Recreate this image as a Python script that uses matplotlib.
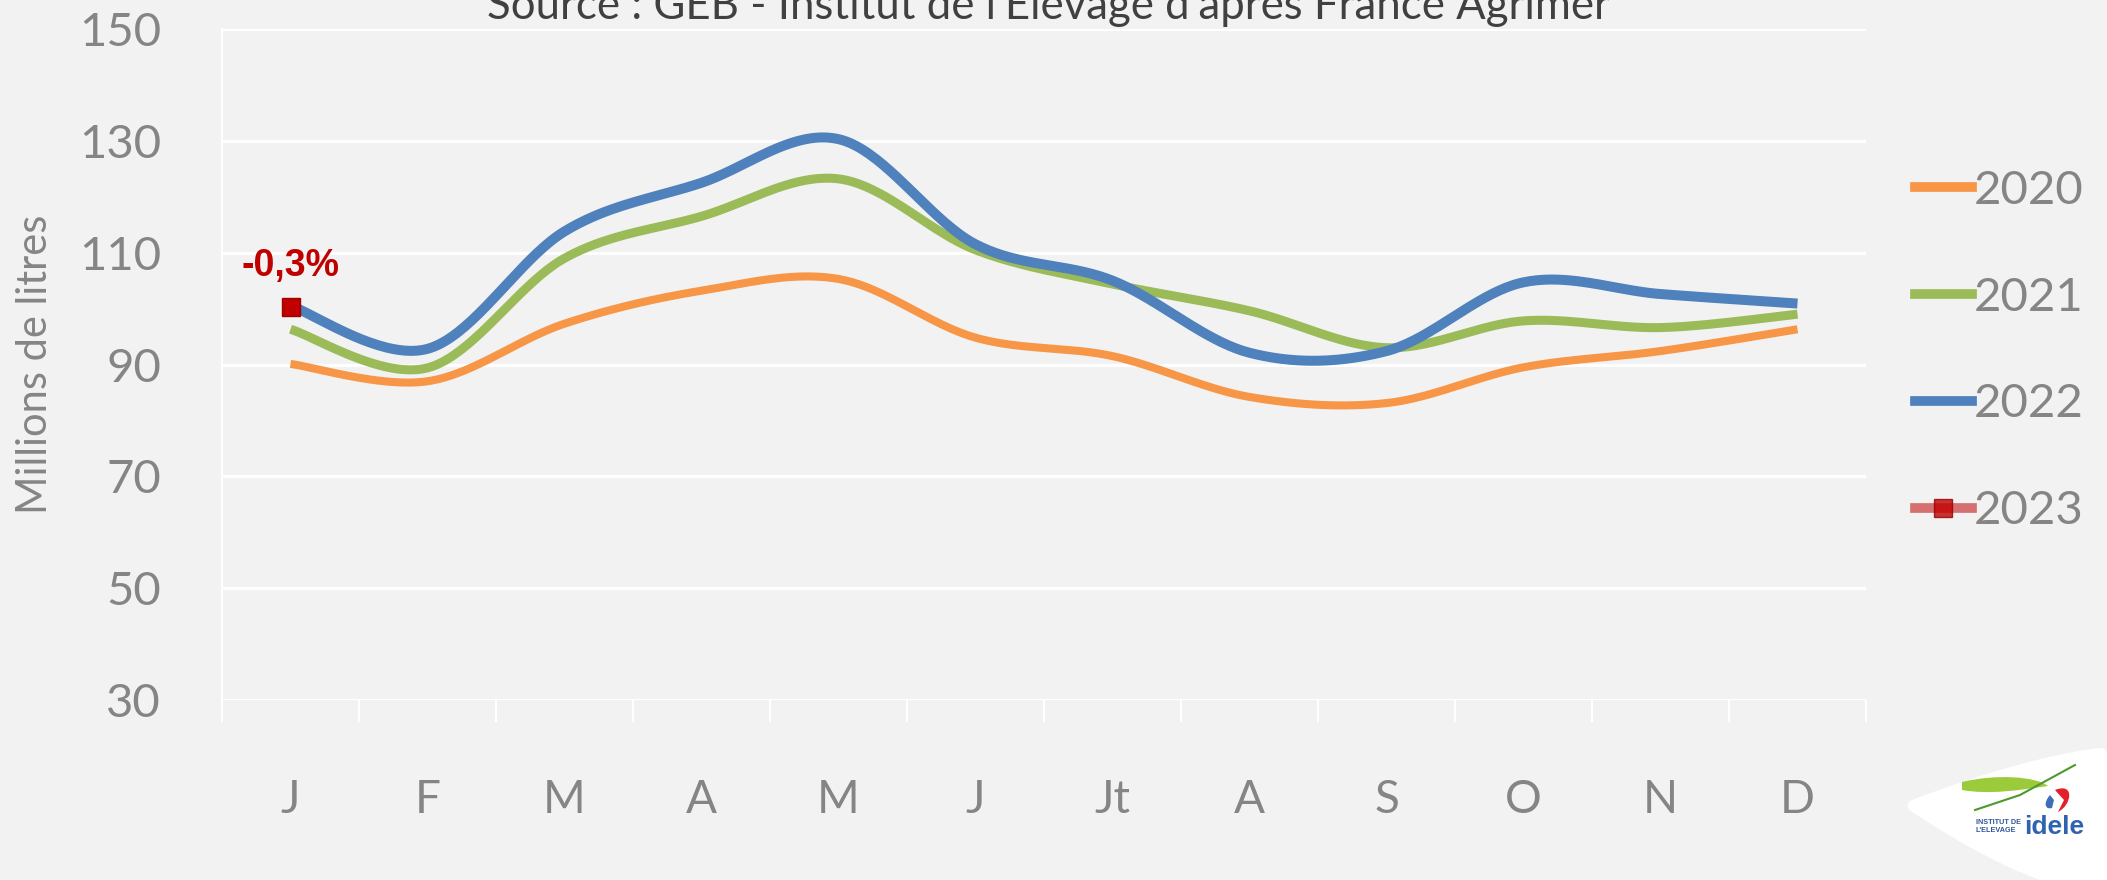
import numpy as np
import matplotlib
matplotlib.use("Agg")
import matplotlib.pyplot as plt
from matplotlib.path import Path
from matplotlib.patches import PathPatch
from matplotlib.lines import Line2D

# ---------------- data ----------------
months = ['J', 'F', 'M', 'A', 'M', 'J', 'Jt', 'A', 'S', 'O', 'N', 'D']
v2020 = [90.1, 87.0, 97.3, 103.2, 105.3, 94.8, 91.5, 84.2, 83.1, 89.5, 92.4, 96.3]
v2021 = [96.3, 89.4, 109.0, 116.5, 123.2, 110.5, 104.4, 99.6, 93.0, 97.8, 96.6, 99.0]
v2022 = [100.5, 92.8, 113.8, 122.5, 130.3, 111.5, 105.0, 92.1, 92.4, 104.7, 102.6, 100.9]
v2023 = [100.2]
series_names = ['2020', '2021', '2022', '2023']
annot_2023 = '-0,3%'
yticks = [30, 50, 70, 90, 110, 130, 150]

C_2020 = '#F79646'
C_2021 = '#9BBB59'
C_2022 = '#4F81BD'
C_2023 = '#C00000'
BG = '#F2F2F2'
GREY = '#858585'
FONT = 'Lato'


def smooth(y, n=40):
    """Excel-style smoothed line (Catmull-Rom through the data points)."""
    y = np.asarray(y, float)
    x = np.arange(len(y), dtype=float)
    if len(y) < 2:
        return x, y
    px = np.concatenate([[x[0]], x, [x[-1]]])
    py = np.concatenate([[y[0]], y, [y[-1]]])
    xs, ys = [], []
    t = np.linspace(0, 1, n, endpoint=False)
    for i in range(1, len(px) - 2):
        p0, p1, p2, p3 = py[i - 1], py[i], py[i + 1], py[i + 2]
        q0, q1, q2, q3 = px[i - 1], px[i], px[i + 1], px[i + 2]
        b1 = p1 + (p2 - p0) / 6
        b2 = p2 - (p3 - p1) / 6
        c1 = q1 + (q2 - q0) / 6
        c2 = q2 - (q3 - q1) / 6
        ys.append((1 - t) ** 3 * p1 + 3 * (1 - t) ** 2 * t * b1 + 3 * (1 - t) * t ** 2 * b2 + t ** 3 * p2)
        xs.append((1 - t) ** 3 * q1 + 3 * (1 - t) ** 2 * t * c1 + 3 * (1 - t) * t ** 2 * c2 + t ** 3 * q2)
    xs.append([x[-1]])
    ys.append([y[-1]])
    return np.concatenate(xs), np.concatenate(ys)


W, H = 2107, 880
fig = plt.figure(figsize=(W / 100, H / 100), dpi=100, facecolor=BG)
ax = fig.add_axes([222 / W, 1 - 700 / H, (1866 - 222) / W, (700 - 29) / H])
ax.set_facecolor(BG)

for vals, col, lw, name in [(v2020, C_2020, 5.8, series_names[0]),
                            (v2021, C_2021, 6.5, series_names[1]),
                            (v2022, C_2022, 7.2, series_names[2])]:
    xs, ys = smooth(vals)
    ax.plot(xs, ys, color=col, lw=lw, solid_capstyle='butt', zorder=3, label=name)

x23 = np.arange(len(v2023))
ax.plot(x23, v2023, color=C_2023, lw=0, marker='s', markersize=13,
        markerfacecolor=C_2023, markeredgecolor='#A00000', zorder=5)
ax.annotate(annot_2023, xy=(x23[0], v2023[0]), xytext=(0, 17), textcoords='offset points',
            ha='center', va='bottom', fontsize=27, fontweight='bold', color=C_2023,
            family='Liberation Sans', zorder=6)

ax.set_xlim(-0.5, len(months) - 0.5)
ax.set_ylim(30, 150)
ax.set_yticks(yticks)
ax.yaxis.grid(True, color='white', lw=2.2)
ax.set_axisbelow(True)
for s in ['top', 'right', 'bottom']:
    ax.spines[s].set_visible(False)
ax.spines['left'].set_color('white')
ax.spines['left'].set_linewidth(1.5)

ax.set_xticks(np.arange(len(months) + 1) - 0.5)
ax.set_xticklabels([])
ax.tick_params(axis='x', which='major', length=16, width=1.5, color='white', direction='out')
ax.set_xticks(np.arange(len(months)), minor=True)
ax.set_xticklabels(months, minor=True)
ax.tick_params(axis='x', which='minor', length=0, pad=57, labelsize=33, labelcolor=GREY)
ax.tick_params(axis='y', length=0, pad=44, labelsize=34, labelcolor=GREY)
for lab in ax.get_xticklabels(minor=True) + ax.get_yticklabels():
    lab.set_family(FONT)
    lab.set_fontweight('normal')

ax.set_ylabel('Millions de litres', fontsize=30, color=GREY, family=FONT, fontweight='normal',
              labelpad=0)
ax.yaxis.set_label_coords(-(222 - 35) / (1866 - 222), 0.5)
ax.yaxis.label.set_va('center')

fig.text(1048 / W, 1 - 19 / H, "Source : GEB - Institut de l'Elevage d'après France Agrimer",
         ha='center', va='baseline', fontsize=31.5, color='#404040', family=FONT, fontweight='normal')

# legend
handles = [Line2D([], [], color=C_2020, lw=7),
           Line2D([], [], color=C_2021, lw=7),
           Line2D([], [], color=C_2022, lw=7),
           Line2D([], [], color='#D05050', lw=7, alpha=0.8, marker='s', markersize=13,
                  markerfacecolor=C_2023, markeredgecolor='#900000')]
leg = fig.legend(handles, series_names, loc='center left',
                 bbox_to_anchor=(1915 / W, 1 - 351 / H), frameon=False,
                 borderpad=0, borderaxespad=0, handlelength=1.2, handletextpad=0.05,
                 labelspacing=1.37, prop={'family': FONT, 'weight': 'normal', 'size': 34})
for t in leg.get_texts():
    t.set_color(GREY)

# logo (decoration) in pixel coordinates
lax = fig.add_axes([0, 0, 1, 1], zorder=10)
lax.set_xlim(0, W)
lax.set_ylim(H, 0)
lax.axis('off')
verts = [(1912, 800), (1990, 770), (2060, 752), (2100, 748),
         (2107, 748), (2107, 752), (2107, 760),
         (2107, 880),
         (2040, 880),
         (1990, 862), (1940, 830), (1912, 812),
         (1906, 808), (1906, 803), (1912, 800)]
codes = [Path.MOVETO, Path.CURVE4, Path.CURVE4, Path.CURVE4,
         Path.CURVE4, Path.CURVE4, Path.CURVE4,
         Path.LINETO, Path.LINETO,
         Path.CURVE4, Path.CURVE4, Path.CURVE4,
         Path.CURVE4, Path.CURVE4, Path.CURVE4]
lax.add_patch(PathPatch(Path(verts, codes), facecolor='white', edgecolor='none'))
# green swoosh
sw = [(1962, 782), (1995, 774), (2035, 776), (2048, 786),
      (2020, 790), (1990, 795), (1962, 790), (1962, 782)]
swc = [Path.MOVETO, Path.CURVE4, Path.CURVE4, Path.CURVE4,
       Path.CURVE4, Path.CURVE4, Path.CURVE4, Path.CLOSEPOLY]
lax.add_patch(PathPatch(Path(sw, swc), facecolor='#9BCB3B', edgecolor='none'))
lax.plot([1975, 2020, 2075], [810, 795, 765], color='#4C9A2A', lw=1.5)
# red and blue drops
lax.add_patch(PathPatch(Path([(2055, 790), (2075, 782), (2072, 805), (2058, 812), (2064, 800), (2055, 790)],
                             [Path.MOVETO, Path.CURVE4, Path.CURVE4, Path.CURVE4, Path.LINETO, Path.CLOSEPOLY]),
                        facecolor='#E3202A', edgecolor='none'))
lax.add_patch(PathPatch(Path([(2050, 795), (2043, 803), (2045, 810), (2052, 808), (2054, 800), (2050, 795)],
                             [Path.MOVETO, Path.CURVE4, Path.CURVE4, Path.CURVE4, Path.LINETO, Path.CLOSEPOLY]),
                        facecolor='#3F6DB5', edgecolor='none'))
lax.text(1976, 822, 'INSTITUT DE', fontsize=5.2, fontweight='bold', color='#2F5597',
         family='Liberation Sans', va='center', ha='left')
lax.text(1976, 830, "L'ELEVAGE", fontsize=5.2, fontweight='bold', color='#2F5597',
         family='Liberation Sans', va='center', ha='left')
lax.text(2024, 834, 'idele', fontsize=19, fontweight='bold', color='#2F63B0',
         family='Liberation Sans', va='baseline', ha='left')

fig.savefig('out.png', dpi=100, facecolor=BG)
